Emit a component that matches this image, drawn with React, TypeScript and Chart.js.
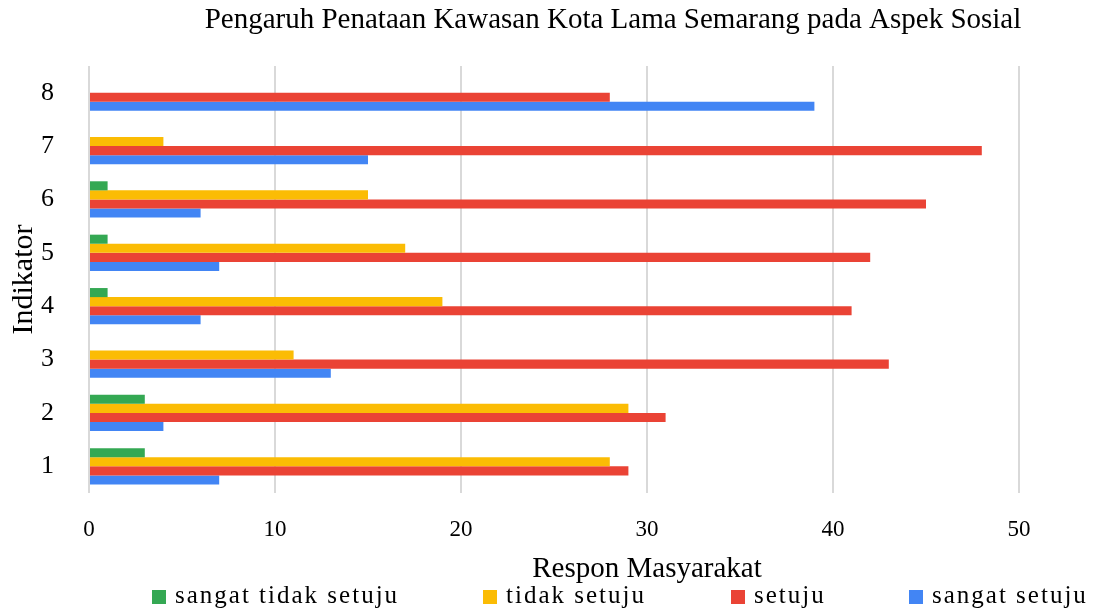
import { useEffect, useRef } from 'react';
import { Chart, registerables } from 'chart.js';

Chart.register(...registerables);

const categories = ['1', '2', '3', '4', '5', '6', '7', '8'];
const seriesNames = ['sangat tidak setuju', 'tidak setuju', 'setuju', 'sangat setuju'];
const sangatTidakSetuju = [3, 3, 0, 1, 1, 1, 0, 0];
const tidakSetuju = [28, 29, 11, 19, 17, 15, 4, 0];
const setuju = [29, 31, 43, 41, 42, 45, 48, 28];
const sangatSetuju = [7, 4, 13, 6, 7, 6, 15, 39];
const seriesColors = ['#34A853', '#FBBC04', '#EA4335', '#4285F4'];
const xMin = 0;
const xMax = 50;
const xStep = 10;
const chartTitle = 'Pengaruh Penataan Kawasan Kota Lama Semarang pada Aspek Sosial';
const xAxisTitle = 'Respon Masyarakat';
const yAxisTitle = 'Indikator';

const FONT = '"Liberation Serif", "Times New Roman", serif';

const layoutText = {
  titleX: 613,
  titleY: 28,
  titleSize: 29,
  xTitleX: 647,
  xTitleY: 577,
  xTitleSize: 29,
  legendX: [152, 483, 731, 909],
  legendBoxY: 590,
  legendBox: 14,
  legendTextGap: 23,
  legendTextY: 603,
  legendSize: 25,
};

const textPlugin = {
  id: 'textOverlay',
  afterDraw(chart: any) {
    const ctx = chart.ctx as CanvasRenderingContext2D;
    const L = layoutText;
    ctx.save();
    ctx.fillStyle = '#000';
    ctx.textBaseline = 'alphabetic';
    ctx.textAlign = 'center';
    ctx.font = `${L.titleSize}px ${FONT}`;
    ctx.fillText(chartTitle, L.titleX, L.titleY);
    ctx.font = `${L.xTitleSize}px ${FONT}`;
    ctx.fillText(xAxisTitle, L.xTitleX, L.xTitleY);
    ctx.textAlign = 'left';
    ctx.font = `${L.legendSize}px ${FONT}`;
    (ctx as any).letterSpacing = '2px';
    L.legendX.forEach((x, i) => {
      ctx.fillStyle = seriesColors[i];
      ctx.fillRect(x, L.legendBoxY, L.legendBox, L.legendBox);
      ctx.fillStyle = '#000';
      ctx.fillText(seriesNames[i], x + L.legendTextGap, L.legendTextY);
    });
    ctx.restore();
  },
};

export default function App() {
  const ref = useRef<HTMLCanvasElement | null>(null);

  useEffect(() => {
    document.body.style.margin = '0';
    const canvas = ref.current;
    if (!canvas) return;
    Chart.defaults.font.family = FONT;
    const seriesValues = [sangatTidakSetuju, tidakSetuju, setuju, sangatSetuju];
    const chart = new Chart(canvas, {
      type: 'bar',
      data: {
        labels: categories,
        datasets: seriesValues.map((vals, i) => ({
          label: seriesNames[i],
          data: vals,
          backgroundColor: seriesColors[i],
          borderWidth: 0,
          categoryPercentage: 0.68,
          barPercentage: 1,
        })),
      },
      options: {
        indexAxis: 'y',
        animation: false,
        responsive: false,
        layout: { padding: { top: 66, right: 74, bottom: 0, left: 4 } },
        plugins: {
          legend: { display: false },
          title: { display: false },
          tooltip: { enabled: false },
        },
        scales: {
          x: {
            min: xMin,
            max: xMax,
            ticks: {
              stepSize: xStep,
              padding: 23,
              color: '#000',
              font: { family: FONT, size: 23 },
            },
            grid: { color: '#d9d9d9', lineWidth: 2, drawTicks: false },
            border: { display: false },
            afterFit: (s: any) => {
              s.height = 119;
            },
          },
          y: {
            reverse: true,
            grid: { display: false },
            border: { display: false },
            ticks: {
              padding: 27,
              color: '#000',
              font: { family: FONT, size: 26 },
            },
            title: {
              display: true,
              text: yAxisTitle,
              color: '#000',
              font: { family: FONT, size: 30 },
              padding: { top: 2, bottom: 0 },
            },
            afterFit: (s: any) => {
              s.width = 85;
            },
          },
        },
      },
      plugins: [textPlugin],
    });
    return () => chart.destroy();
  }, []);

  return (
    <div style={{ width: 1093, height: 612 }}>
      <canvas ref={ref} width={1093} height={612} style={{ display: 'block' }} />
    </div>
  );
}
